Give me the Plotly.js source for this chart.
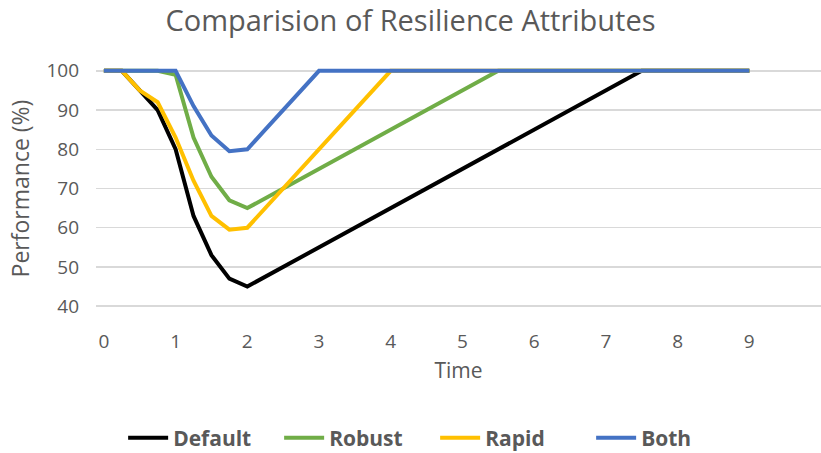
<!DOCTYPE html>
<html>
<head>
<meta charset="utf-8">
<script src="https://cdn.plot.ly/plotly-3.0.1.min.js"></script>
<style>html,body{margin:0;padding:0;background:#fff;}#chart{width:821px;height:453px;}</style>
</head>
<body>
<div id="chart"></div>
<script>
const time = [0,0.25,0.5,0.75,1,1.25,1.5,1.75,2,2.25,2.5,2.75,3,3.25,3.5,3.75,4,4.25,4.5,4.75,5,5.25,5.5,5.75,6,6.25,6.5,6.75,7,7.25,7.5,7.75,8,8.25,8.5,8.75,9];
const defaultPerf = [100,100,95,90,80,63,53,47,45,47.5,50,52.5,55,57.5,60,62.5,65,67.5,70,72.5,75,77.5,80,82.5,85,87.5,90,92.5,95,97.5,100,100,100,100,100,100,100];
const robustPerf = [100,100,100,100,99,83,73,67,65,67.5,70,72.5,75,77.5,80,82.5,85,87.5,90,92.5,95,97.5,100,100,100,100,100,100,100,100,100,100,100,100,100,100,100];
const rapidPerf = [100,100,95,92,83,72,63,59.5,60,65,70,75,80,85,90,95,100,100,100,100,100,100,100,100,100,100,100,100,100,100,100,100,100,100,100,100,100];
const bothPerf = [100,100,100,100,100,91,83.5,79.5,80,85,90,95,100,100,100,100,100,100,100,100,100,100,100,100,100,100,100,100,100,100,100,100,100,100,100,100,100];
const seriesNames = ['Default','Robust','Rapid','Both'];
const seriesColors = ['#000000','#70AD47','#FFC000','#4472C4'];
const seriesData = [defaultPerf, robustPerf, rapidPerf, bothPerf];
const xTicks = [0,1,2,3,4,5,6,7,8,9];
const yTicks = [40,50,60,70,80,90,100];

const traces = seriesData.map((ys,i)=>({
  x: time, y: ys, type:'scatter', mode:'lines', name: seriesNames[i],
  line:{color: seriesColors[i], width:4}
}));

const gray = '#595959';
const layout = {
  width:821, height:453,
  margin:{l:96, r:0, t:63, b:139},
  paper_bgcolor:'#fff', plot_bgcolor:'#fff',
  font:{family:'Open Sans, sans-serif', color:gray},
  title:{text:'Comparision of Resilience Attributes', x:0.5, xref:'container', y:0.953, yref:'container', yanchor:'middle', font:{size:29, color:gray}},
  xaxis:{range:[-0.11,10], tickvals:xTicks, ticktext:xTicks.map(String), showgrid:false, zeroline:false, showline:false,
    tickfont:{size:19, color:gray}, ticks:'', ticklabelstandoff:14,
    title:{text:'Time', font:{size:21, color:gray}, standoff:10}},
  yaxis:{range:[38,102], tickvals:yTicks, ticktext:yTicks.map(String), showgrid:true, gridcolor:'#d9d9d9', gridwidth:1.5, zeroline:false, showline:false,
    tickfont:{size:19, color:gray}, ticks:'', ticklabelstandoff:16,
    title:{text:'Performance (%)', font:{size:23, color:gray}, standoff:10}},
  showlegend:true,
  legend:{orientation:'h', x:0.53, xref:'container', xanchor:'center', y:0.033, yref:'container', yanchor:'middle', font:{size:21, color:gray, weight:'bold'}, traceorder:'normal', itemwidth:40, entrywidth:101, entrywidthmode:'pixels'}
};
Plotly.newPlot('chart', traces, layout, {displayModeBar:false, staticPlot:true});
</script>
</body>
</html>
